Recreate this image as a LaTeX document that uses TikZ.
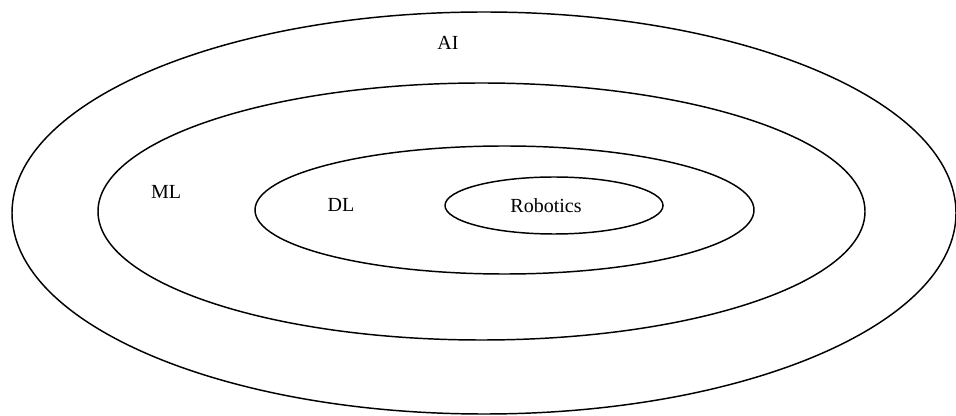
\documentclass[tikz,border=0pt]{standalone}
\usepackage{fontspec}
\setmainfont{Liberation Serif}

\begin{document}
\begin{tikzpicture}
      [x = 0.75pt, y = -0.75pt,
      ring/.style={
         draw,
         line width = 1.1pt
      },
      tag/.style= {
         inner sep = 0pt,
         font = \fontsize{15}{18}\selectfont
      }]

      \useasboundingbox (0, 0) rectangle (956, 416);

      % nested fields, outermost first
      \draw[ring] (484, 213) ellipse (472 and 201);
      \draw[ring] (481.5, 211.5) ellipse (383.5 and 128.5);
      \draw[ring] (504.5, 210) ellipse (249.5 and 64);
      \draw[ring] (554, 205.5) ellipse (109 and 28.5);

      \node[tag] (ai) at (448, 43) {AI};
      \node[tag] (ml) at (166, 192) {ML};
      \node[tag] (dl) at (341, 205) {DL};
      \node[tag] (robotics) at (546, 206) {Robotics};

   \end{tikzpicture}
\end{document}
